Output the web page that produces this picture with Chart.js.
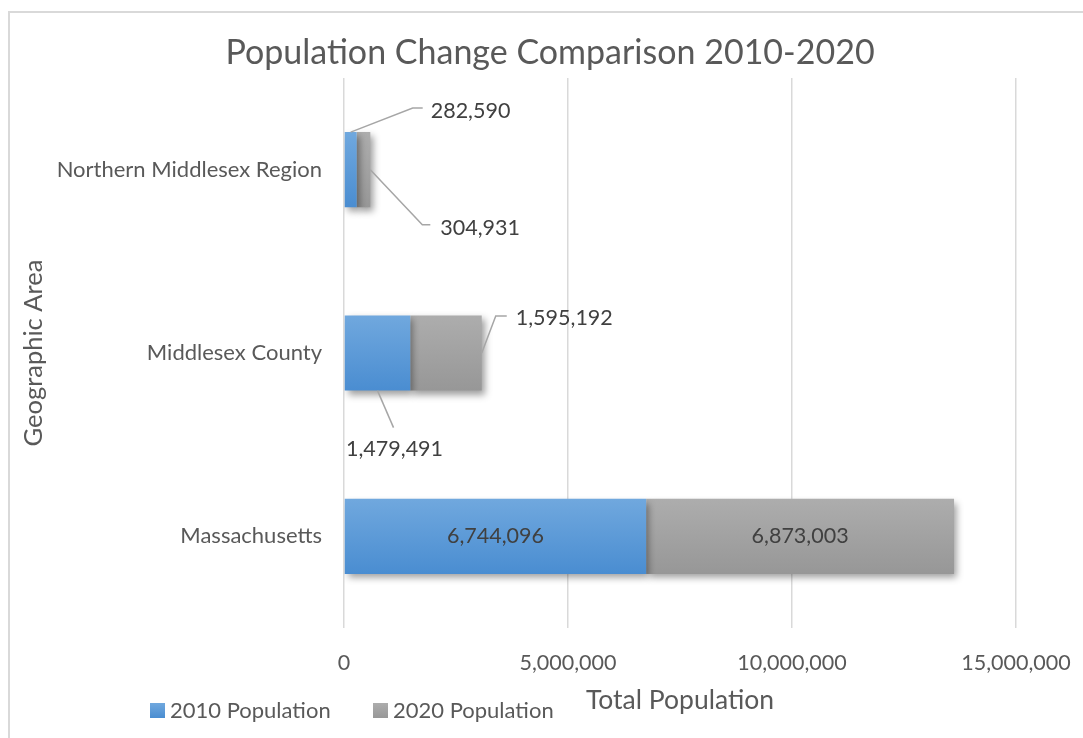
<html>
<head>
  <title>Population Change Comparison 2010-2020</title>
  <style>
    body { margin: 0; background: #fff; }
    #wrap { width: 1083px; height: 738px; }
  </style>
</head>
<body>
  <div id="wrap">
  <canvas id="myChart" width="1083" height="738"></canvas>
</div>

<script src="https://cdn.jsdelivr.net/npm/chart.js"></script>

<script>
  const areas = ['Northern Middlesex Region', 'Middlesex County', 'Massachusetts']
  const pop2010 = [282590, 1479491, 6744096]
  const pop2020 = [304931, 1595192, 6873003]
  const xTicks = [0, 5000000, 10000000, 15000000]
  const chartTitle = 'Population Change Comparison 2010-2020'

  const FONT = 'Lato'
  const TEXT = '#595959'
  const BAR_PCT = 0.41

  const fmt = v => Number(v).toLocaleString('en-US')

  // vertical gradient per bar, like the office chart fill
  function barFill(top, bottom) {
    return c => {
      const chart = c.chart
      const area = chart.chartArea
      if (!area || c.type !== 'data') return top
      const y = chart.scales.y.getPixelForValue(c.dataIndex)
      const half = (area.bottom - area.top) / areas.length * BAR_PCT / 2
      const g = chart.ctx.createLinearGradient(0, y - half, 0, y + half)
      g.addColorStop(0, top)
      g.addColorStop(1, bottom)
      return g
    }
  }

  const blue = ['#70a8de', '#4a8dd1']
  const grey = ['#adadad', '#979797']

  // where each value label sits: inside the bar, or out on a leader line
  // anchor: point on the bar the line starts from; pts: line bends; text: label spot
  const labelSpots = {
    '0-0': { anchor: 'midTop', pts: [[62, -24], [72, -24]], text: [80, -21], align: 'left' },
    '1-0': { anchor: 'end', pts: [[52, 55], [60, 55]], text: [70, 58], align: 'left' },
    '0-1': { anchor: 'midBottom', pts: [[16, 37]], text: [17, 58], align: 'center' },
    '1-1': { anchor: 'end', pts: [[14, -37], [25, -37]], text: [34, -35], align: 'left' },
    '0-2': { anchor: 'inside' },
    '1-2': { anchor: 'inside' }
  }

  // outer frame (top and left edge only) plus the chart title
  const frame = {
    id: 'frame',
    beforeDraw(chart) {
      const c = chart.ctx
      c.save()
      c.fillStyle = '#fff'
      c.fillRect(0, 0, chart.width, chart.height)
      c.strokeStyle = '#d9d9d9'
      c.lineWidth = 2
      c.beginPath()
      c.moveTo(9, chart.height)
      c.lineTo(9, 12)
      c.lineTo(chart.width, 12)
      c.stroke()
      c.font = '34px ' + FONT
      c.fillStyle = TEXT
      c.textAlign = 'center'
      c.textBaseline = 'middle'
      c.fillText(chartTitle, 550, 53)
      c.restore()
    }
  }

  const barShadow = {
    id: 'barShadow',
    beforeDatasetsDraw(chart) {
      const c = chart.ctx
      c.save()
      c.shadowColor = 'rgba(0,0,0,0.38)'
      c.shadowBlur = 7
      c.shadowOffsetX = 3
      c.shadowOffsetY = 4
    },
    afterDatasetsDraw(chart) {
      chart.ctx.restore()
    }
  }

  const valueLabels = {
    id: 'valueLabels',
    afterDraw(chart) {
      const c = chart.ctx
      c.save()
      c.font = '21.5px ' + FONT
      c.textBaseline = 'middle'
      chart.data.datasets.forEach((ds, di) => {
        chart.getDatasetMeta(di).data.forEach((bar, i) => {
          const spot = labelSpots[di + '-' + i]
          const p = bar.getProps(['x', 'y', 'base', 'height'], true)
          const txt = fmt(ds.data[i])
          if (spot.anchor === 'inside') {
            c.fillStyle = '#404040'
            c.textAlign = 'center'
            c.fillText(txt, (p.x + p.base) / 2, p.y)
            return
          }
          let ax, ay
          if (spot.anchor === 'end') { ax = p.x; ay = p.y }
          else if (spot.anchor === 'midTop') { ax = (p.x + p.base) / 2; ay = p.y - p.height / 2 }
          else { ax = (p.x + p.base) / 2; ay = p.y + p.height / 2 }
          c.strokeStyle = '#a6a6a6'
          c.lineWidth = 1.5
          c.beginPath()
          c.moveTo(ax, ay)
          spot.pts.forEach(q => c.lineTo(ax + q[0], ay + q[1]))
          c.stroke()
          c.fillStyle = '#404040'
          c.textAlign = spot.align
          c.fillText(txt, ax + spot.text[0], ay + spot.text[1])
        })
      })
      c.restore()
    }
  }

  // legend sits low on the left, under the category labels
  const bottomLegend = {
    id: 'bottomLegend',
    afterDraw(chart) {
      const c = chart.ctx
      const items = [[150, blue, '2010 Population'], [373, grey, '2020 Population']]
      c.save()
      c.font = '22px ' + FONT
      c.textBaseline = 'middle'
      c.textAlign = 'left'
      items.forEach(([x, col, name]) => {
        const g = c.createLinearGradient(0, 703, 0, 718)
        g.addColorStop(0, col[0])
        g.addColorStop(1, col[1])
        c.fillStyle = g
        c.fillRect(x, 703, 15, 15)
        c.fillStyle = TEXT
        c.fillText(name, x + 20, 711)
      })
      c.restore()
    }
  }

  const ctx = document.getElementById('myChart')
  new Chart(ctx, {
    type: 'bar',
    data: {
      labels: areas,
      datasets: [
        { label: '2010 Population', data: pop2010, backgroundColor: barFill(blue[0], blue[1]) },
        { label: '2020 Population', data: pop2020, backgroundColor: barFill(grey[0], grey[1]) }
      ]
    },
    options: {
      indexAxis: 'y',
      responsive: false,
      animation: false,
      categoryPercentage: 1,
      barPercentage: BAR_PCT,
      layout: { padding: { left: 0, right: 67, top: 78, bottom: 0 } },
      plugins: {
        legend: { display: false },
        tooltip: { enabled: false },
        title: { display: false }
      },
      scales: {
        x: {
          stacked: true,
          min: 0,
          max: 15000000,
          afterBuildTicks: s => { s.ticks = xTicks.map(v => ({ value: v })) },
          afterFit: s => {
            s.height = 110
            s.paddingLeft = 0
            s.paddingRight = 0
          },
          grid: { color: '#d9d9d9', lineWidth: 1.5, drawTicks: false },
          border: { display: false },
          ticks: {
            color: TEXT,
            padding: 22,
            font: { family: FONT, size: 21.5 },
            callback: v => fmt(v)
          },
          title: {
            display: true,
            text: 'Total Population',
            color: TEXT,
            font: { family: FONT, size: 26.5 },
            padding: { top: 0, bottom: 22 }
          }
        },
        y: {
          stacked: true,
          afterFit: s => {
            s.width = 344
            s.paddingTop = 0
            s.paddingBottom = 0
          },
          grid: { display: false, drawTicks: false },
          border: { display: false },
          ticks: {
            color: TEXT,
            padding: 22,
            font: { family: FONT, size: 22 }
          },
          title: {
            display: true,
            text: 'Geographic Area',
            color: TEXT,
            font: { family: FONT, size: 25.5 },
            padding: { top: 18, bottom: 0 }
          }
        }
      }
    },
    plugins: [frame, barShadow, valueLabels, bottomLegend]
  })
</script>

</body>
</html>
